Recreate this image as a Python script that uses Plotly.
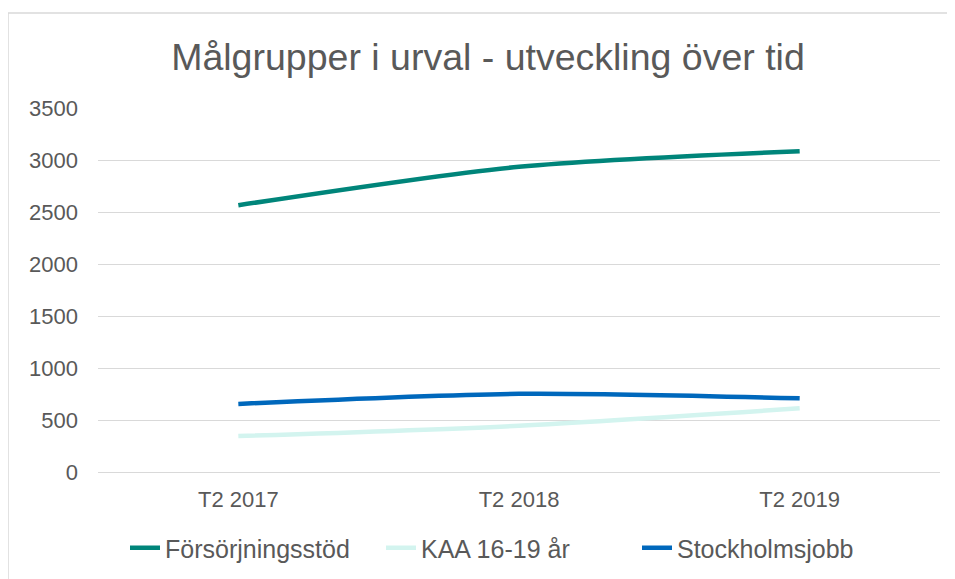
import plotly.graph_objects as go

categories = ["T2 2017", "T2 2018", "T2 2019"]
forsorjningsstod = [2565, 2935, 3085]
kaa_16_19 = [345, 445, 612]
stockholmsjobb = [655, 752, 708]

series = [
    ("Försörjningsstöd", forsorjningsstod, "#00857A"),
    ("KAA 16-19 år", kaa_16_19, "#D3F4EF"),
    ("Stockholmsjobb", stockholmsjobb, "#0068BC"),
]

fig = go.Figure()
for name, vals, color in series:
    fig.add_trace(go.Scatter(
        x=categories, y=vals, name=name, mode="lines",
        line=dict(color=color, width=4.5, shape="spline", smoothing=0.8),
    ))

# page body adds an ~8px offset; figure coordinates below compensate for it
OFF = 8
W, H = 955, 579
ml, mr, mt, mb = 90, 23, 100, 115
pw = W - ml - mr
ph = H - mt - mb

def px_x(p):
    return (p - OFF - ml) / pw

def px_y(p):
    return (H - mb - (p - OFF)) / ph

fig.update_layout(
    width=W, height=H,
    margin=dict(l=ml, r=mr, t=mt, b=mb, autoexpand=False),
    paper_bgcolor="white", plot_bgcolor="white",
    font=dict(family="Liberation Sans, Arial, sans-serif", size=22, color="#595959"),
    title=dict(
        text="Målgrupper i urval - utveckling över tid",
        x=(488 - OFF) / W, xanchor="center", y=1 - (57 - OFF) / H, yanchor="middle",
        font=dict(size=37.5, color="#595959"),
    ),
    showlegend=True,
    legend=dict(
        orientation="h", x=px_x(509), xanchor="center",
        y=px_y(548), yanchor="middle",
        font=dict(size=25, color="#595959"),
        entrywidth=211, entrywidthmode="pixels",
        tracegroupgap=0,
    ),
    xaxis=dict(
        type="category", range=[-0.5, 2.5], showgrid=False, showline=False,
        zeroline=False, ticks="", ticklabelstandoff=12,
        tickfont=dict(size=22, color="#595959"), automargin=False,
    ),
    yaxis=dict(
        range=[0, 3500], dtick=500, tick0=0,
        showgrid=True, gridcolor="#D9D9D9", gridwidth=1,
        zeroline=True, zerolinecolor="#D9D9D9", zerolinewidth=1,
        showline=False, ticks="", ticklabelstandoff=19,
        tickfont=dict(size=22, color="#595959"), automargin=False,
    ),
    shapes=[dict(
        type="rect", xref="paper", yref="paper",
        x0=px_x(8), x1=px_x(970), y0=px_y(600), y1=px_y(13),
        line=dict(color="#D9D9D9", width=1.5), fillcolor="rgba(0,0,0,0)",
        layer="below",
    )],
)

fig.write_html("out.html")
